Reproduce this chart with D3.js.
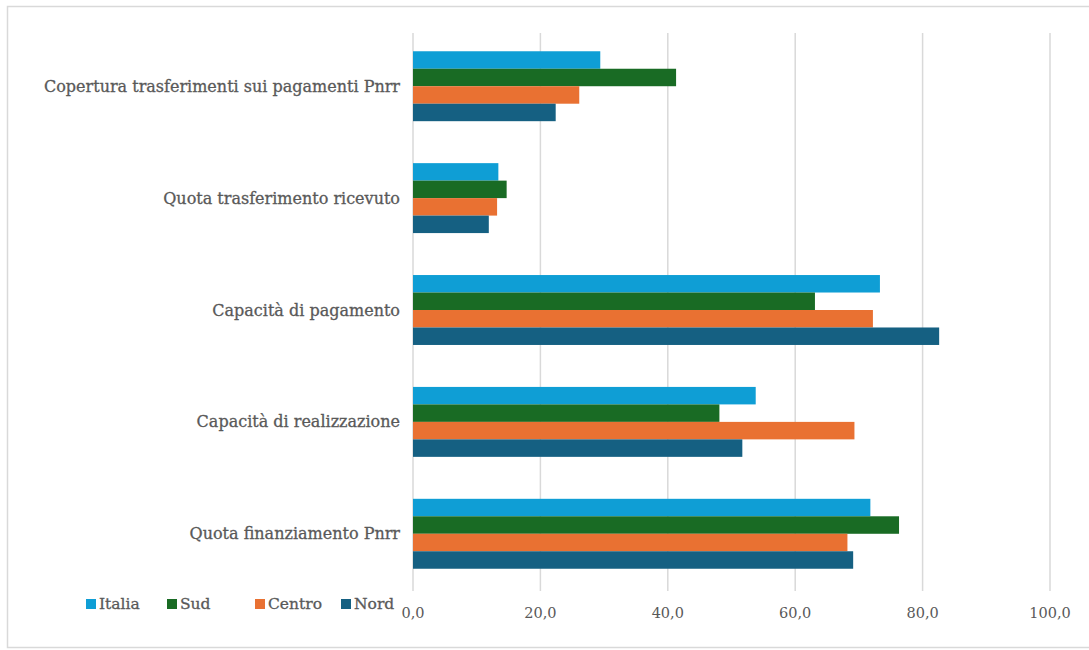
<!DOCTYPE html>
<html>
<head>
<meta charset="utf-8">
<script src="https://cdn.jsdelivr.net/npm/d3@7"></script>
<style>
  body { margin: 0; background: #fff; }
  svg { display: block; }
  text { font-family: "DejaVu Serif", "Liberation Serif", serif; fill: #595959; }
</style>
</head>
<body>
<div id="chart"></div>
<script>
// categories top to bottom
const categories = [
  'Copertura trasferimenti sui pagamenti Pnrr',
  'Quota trasferimento ricevuto',
  'Capacità di pagamento',
  'Capacità di realizzazione',
  'Quota finanziamento Pnrr'
];
const seriesNames = ['Italia', 'Sud', 'Centro', 'Nord'];
const italia = [29.4, 13.4, 73.3, 53.8, 71.8];
const sud    = [41.3, 14.7, 63.1, 48.1, 76.3];
const centro = [26.1, 13.2, 72.2, 69.3, 68.2];
const nord   = [22.4, 11.9, 82.6, 51.7, 69.1];
const xTicks = [0, 20, 40, 60, 80, 100];
const colors = ['#0f9ed5', '#196b24', '#e97132', '#156082'];

const seriesValues = [italia, sud, centro, nord];

const width = 1089, height = 650;
const svg = d3.select('#chart').append('svg')
    .attr('width', width)
    .attr('height', height);

// outer frame (right edge runs off the picture)
svg.append('rect')
    .attr('x', 7.5).attr('y', 6.5)
    .attr('width', width).attr('height', height - 9)
    .attr('fill', 'none')
    .attr('stroke', '#d9d9d9')
    .attr('stroke-width', 1.5);

const x = d3.scaleLinear().domain([0, 100]).range([413, 1050]);
const y = d3.scaleBand().domain(categories).range([30, 590])
    .paddingInner(0.375).paddingOuter(0.19);
const yInner = d3.scaleBand().domain(seriesNames).range([0, y.bandwidth()]);

// gridlines
svg.append('g').selectAll('line')
  .data(xTicks)
  .enter().append('line')
    .attr('x1', d => x(d)).attr('x2', d => x(d))
    .attr('y1', 33).attr('y2', 591)
    .attr('stroke', '#d9d9d9')
    .attr('stroke-width', 1.5);

// tick labels
svg.append('g').selectAll('text')
  .data(xTicks)
  .enter().append('text')
    .attr('x', d => x(d))
    .attr('y', 618)
    .attr('text-anchor', 'middle')
    .style('font-size', '14.5px')
    .text(d => d3.format('.1f')(d).replace('.', ','));

// bars
const groups = svg.append('g').selectAll('g')
  .data(categories)
  .enter().append('g')
    .attr('transform', c => 'translate(0,' + y(c) + ')');

groups.selectAll('rect')
  .data((c, i) => seriesNames.map((s, j) => ({ s: s, v: seriesValues[j][i], c: colors[j] })))
  .enter().append('rect')
    .attr('x', x(0))
    .attr('y', d => yInner(d.s))
    .attr('width', d => x(d.v) - x(0))
    .attr('height', yInner.bandwidth())
    .attr('fill', d => d.c);

// category labels
svg.append('g').selectAll('text')
  .data(categories)
  .enter().append('text')
    .attr('x', 400)
    .attr('y', c => y(c) + y.bandwidth() / 2)
    .attr('dy', '0.35em')
    .attr('text-anchor', 'end')
    .style('font-size', '16px')
    .style('stroke', '#595959')
    .style('stroke-width', 0.3)
    .text(c => c);

// legend
const legendX = [86, 167, 255, 341];
const legend = svg.append('g').selectAll('g')
  .data(seriesNames)
  .enter().append('g')
    .attr('transform', (d, i) => 'translate(' + legendX[i] + ',604)');
legend.append('rect')
    .attr('x', 0).attr('y', -5)
    .attr('width', 10).attr('height', 10)
    .attr('fill', (d, i) => colors[i]);
legend.append('text')
    .attr('x', 13).attr('dy', '0.35em')
    .style('font-size', '15.5px')
    .style('stroke', '#595959')
    .style('stroke-width', 0.3)
    .text(d => d);
</script>
</body>
</html>
